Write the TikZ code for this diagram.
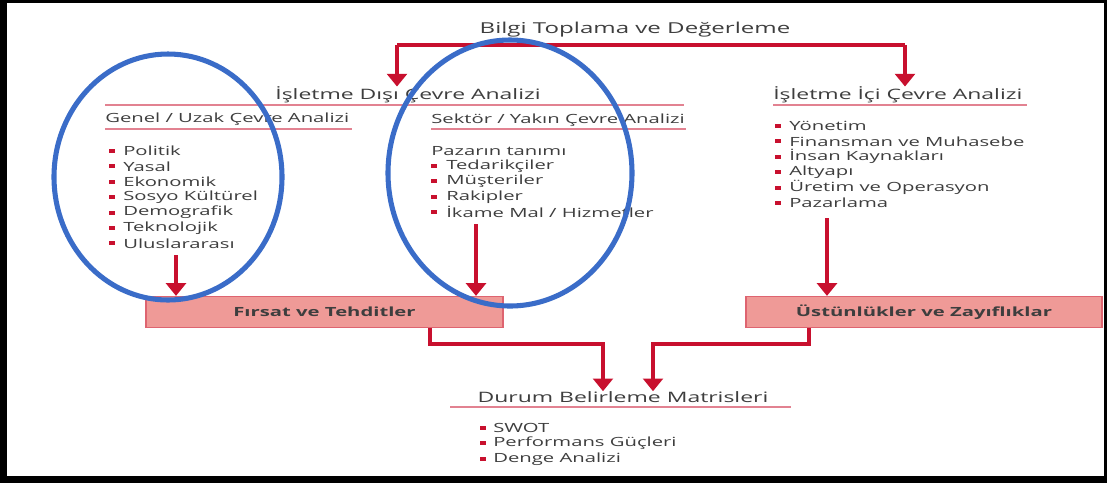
\documentclass[tikz,border=0pt]{standalone}
\usepackage{fontspec}
\setmainfont[FakeStretch=1.6]{Open Sans}
\usetikzlibrary{arrows.meta, positioning}
\definecolor{flowred}{RGB}{200,16,46}
\definecolor{rulepink}{RGB}{226,130,145}
\definecolor{boxfill}{RGB}{239,154,151}
\definecolor{boxedge}{RGB}{222,100,112}
\definecolor{ringblue}{RGB}{58,108,200}
\definecolor{textgray}{RGB}{62,62,62}

\begin{document}
\begin{tikzpicture}[x=0.025cm, y=-0.025cm,
    label/.style={inner sep=0, anchor=west, text=textgray, font=\fontsize{9}{11}\selectfont},
    head/.style={label, font=\fontsize{10.2}{12}\selectfont},
    dot/.style={fill=flowred, inner sep=0, minimum width=0.14cm, minimum height=0.1cm},
    result/.style={draw=boxedge, line width=1pt, fill=boxfill, text=textgray,
        minimum height=0.77cm, font=\fontsize{9}{11}\selectfont\bfseries},
    flow/.style={flowred, line width=2.8pt, -{Triangle[width=14pt,length=9pt]}},
    rule/.style={rulepink, line width=1.2pt},
    ring/.style={ringblue, line width=3.6pt}
]
% frame
\fill[black] (0,0) rectangle (1107,483);
\fill[white] (7,3) rectangle (1104,476);

% headings
\node[head, anchor=center, font=\fontsize{10.7}{12}\selectfont] (bilgi) at (635,30) {Bilgi Toplama ve Değerleme};
\node[head, anchor=center] (disi) at (408,95) {İşletme Dışı Çevre Analizi};
\node[label] (genel) at (105,119) {Genel / Uzak Çevre Analizi};
\node[label] (sektor) at (431,120) {Sektör / Yakın Çevre Analizi};
\node[head] (ici) at (773,95) {İşletme İçi Çevre Analizi};

\draw[rule] (105,105) -- (684,105);
\draw[rule] (105,129) -- (352,129);
\draw[rule] (431,129) -- (686,129);
\draw[rule] (773,105) -- (1027,105);

% lists
\foreach \txt [count=\i from 0] in {Politik, Yasal, Ekonomik, Sosyo Kültürel, Demografik, Teknolojik, Uluslararası} {
    \node[dot] (gdot\i) at (112,{151+15.4*\i}) {};
    \node[label] (gen\i) at (123,{151+15.4*\i}) {\txt};
}
\node[label] (pazar) at (431,151) {Pazarın tanımı};
\foreach \txt [count=\i from 0] in {Tedarikçiler, Müşteriler, Rakipler, İkame Mal / Hizmetler} {
    \node[dot] (sdot\i) at (434,{166+15.4*\i}) {};
    \node[label] (sek\i) at (446,{166+15.4*\i}) {\txt};
}
\foreach \txt [count=\i from 0] in {Yönetim, Finansman ve Muhasebe, İnsan Kaynakları, Altyapı, Üretim ve Operasyon, Pazarlama} {
    \node[dot] (idot\i) at (778,{126+15.4*\i}) {};
    \node[label] (ic\i) at (789,{126+15.4*\i}) {\txt};
}

% results
\node[result, minimum width=8.925cm] (firsat) at (324.5,312) {Fırsat ve Tehditler};
\node[result, minimum width=8.9cm] (ustun) at (924,312) {Üstünlükler ve Zayıflıklar};

\node[head, anchor=center] (durum) at (623,397) {Durum Belirleme Matrisleri};
\draw[rule] (450,407) -- (791,407);
\foreach \txt [count=\i from 0] in {SWOT, Performans Güçleri, Denge Analizi} {
    \node[dot] (ddot\i) at (483,{428+15.4*\i}) {};
    \node[label] (dur\i) at (493,{428+15.4*\i}) {\txt};
}

% connectors
\coordinate (bilgiL) at (397,45);
\coordinate (bilgiR) at (905,45);
\draw[flowred, line width=2.8pt] (bilgiL) -- (bilgiR);
\draw[flow] (bilgiL) -- (bilgiL |- disi.north);
\draw[flow] (bilgiR) -- (bilgiR |- ici.north);

\coordinate (genelOut) at (176,255);
\coordinate (sektorOut) at (476,224);
\coordinate (iciOut) at (827,218);
\draw[flow] (genelOut) -- (genelOut |- firsat.north);
\draw[flow] (sektorOut) -- (sektorOut |- firsat.north);
\draw[flow] (iciOut) -- (iciOut |- ustun.north);

\draw[flow] ([xshift=2.64cm]firsat.south) -- ++(0,16) -| ([xshift=-0.5cm]durum.north);
\draw[flow] ([xshift=-2.875cm]ustun.south) -- ++(0,16) -| ([xshift=0.75cm]durum.north);

% rings
\draw[ring] (168,177) ellipse [x radius=114, y radius=123];
\draw[ring] (510,173) ellipse [x radius=122, y radius=133];
\end{tikzpicture}
\end{document}
